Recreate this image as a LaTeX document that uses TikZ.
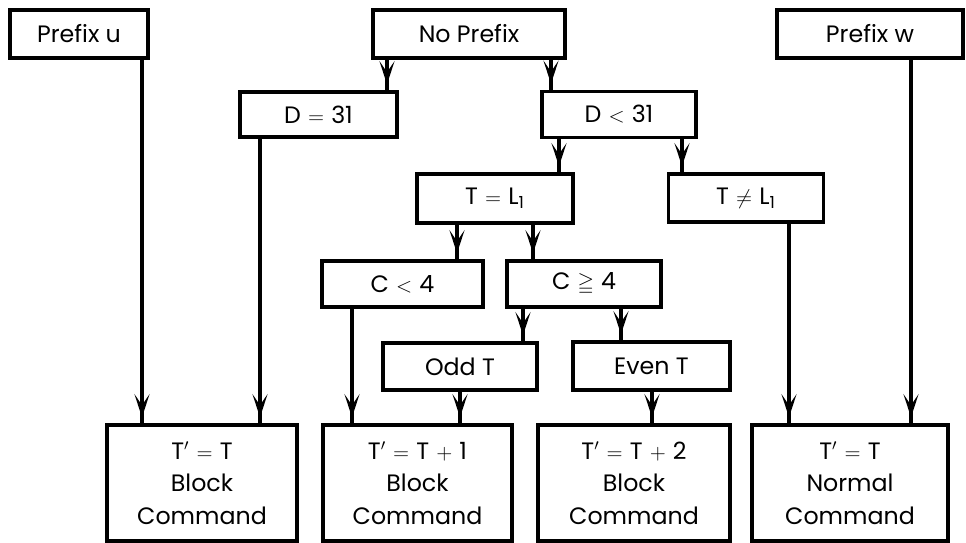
\documentclass[tikz,border=0pt]{standalone}
\usepackage{amssymb}
\usepackage{fontspec}
\setmainfont{Poppins}
\usetikzlibrary{arrows.meta}

\newcommand{\rel}[1]{\hspace{0.3em}{\large$#1$}\hspace{0.3em}}

\begin{document}
\begin{tikzpicture}[
    x=0.02cm, y=-0.02cm,
    >={Stealth[length=0.46cm, width=0.3cm, inset=0.22cm]}, % punta estrecha
    caja/.style={draw, line width=2pt, align=center, inner sep=0pt, font=\fontsize{13.5}{18.5}\selectfont},
    tam/.style 2 args={minimum width=#1*0.02cm, minimum height=#2*0.02cm},
    flecha/.style={line width=1.8pt, postaction={draw, ->, shorten >=0.12cm}}
]
    \useasboundingbox (0,0) rectangle (966,543);

    % 1. Fila superior: prefijos
    \node[caja, tam={138}{48}] (preu) at (79,34) {Prefix u};
    \node[caja, tam={192}{48}] (nopre) at (469,34) {No Prefix};
    \node[caja, tam={186}{48}] (prew) at (870,34) {Prefix w};

    % 2. Condiciones sobre D
    \node[caja, tam={157}{45}] (deq) at (318.5,114.5) {D\rel{=}31};
    \node[caja, tam={154}{46}] (dlt) at (619,114.5) {D\rel{<}31};

    % 3. Condiciones sobre T
    \node[caja, tam={156}{49}] (teq) at (495,198.5) {T\rel{=}L\textsubscript{1}};
    \node[caja, tam={155}{48}] (tne) at (746,198) {T\rel{\neq}L\textsubscript{1}};

    % 4. Condiciones sobre C
    \node[caja, tam={161}{46}] (clt) at (402.5,284) {C\rel{<}4};
    \node[caja, tam={154}{46}] (cge) at (584,284) {C\rel{\geqq}4};

    % 5. Paridad de T
    \node[caja, tam={154}{47}] (odd) at (460,366.5) {Odd T};
    \node[caja, tam={157}{48}] (even) at (651.5,366) {Even T};

    % 6. Resultados (fila inferior)
    \node[caja, tam={190}{116}] (blk1) at (202,483) {T$'$\rel{=}T\\Block\\Command};
    \node[caja, tam={189}{116}] (blk2) at (417.5,483) {T$'$\rel{=}T\rel{+}1\\Block\\Command};
    \node[caja, tam={192}{116}] (blk3) at (634,483) {T$'$\rel{=}T\rel{+}2\\Block\\Command};
    \node[caja, tam={196}{116}] (blk4) at (850,483) {T$'$\rel{=}T\\Normal\\Command};

    % 7. Flechas verticales
    \draw[flecha] (preu.south -| 142,0) -- (blk1.north -| 142,0);
    \draw[flecha] (deq.south -| 260,0) -- (blk1.north -| 260,0);
    \draw[flecha] (nopre.south -| 387,0) -- (deq.north -| 387,0);
    \draw[flecha] (nopre.south -| 551,0) -- (dlt.north -| 551,0);
    \draw[flecha] (dlt.south -| 559,0) -- (teq.north -| 559,0);
    \draw[flecha] (dlt.south -| 682,0) -- (tne.north -| 682,0);
    \draw[flecha] (teq.south -| 457,0) -- (clt.north -| 457,0);
    \draw[flecha] (teq.south -| 533,0) -- (cge.north -| 533,0);
    \draw[flecha] (clt.south -| 352,0) -- (blk2.north -| 352,0);
    \draw[flecha] (cge.south -| 523,0) -- (odd.north -| 523,0);
    \draw[flecha] (cge.south -| 621,0) -- (even.north -| 621,0);
    \draw[flecha] (odd.south -| 460,0) -- (blk2.north -| 460,0);
    \draw[flecha] (even.south -| 652,0) -- (blk3.north -| 652,0);
    \draw[flecha] (tne.south -| 789,0) -- (blk4.north -| 789,0);
    \draw[flecha] (prew.south -| 911,0) -- (blk4.north -| 911,0);

\end{tikzpicture}
\end{document}
